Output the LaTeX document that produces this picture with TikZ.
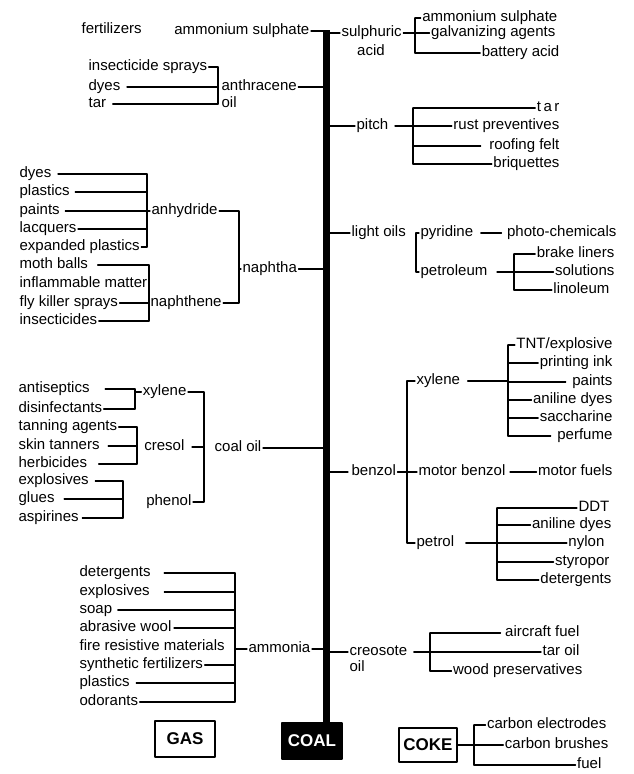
\documentclass[tikz,border=0pt]{standalone}
\usepackage{fontspec}
\setmainfont{Liberation Sans}
\begin{document}
\begin{tikzpicture}[x=1pt,y=-1pt,line join=round,line cap=round,line width=1.3pt,
 lbl/.style={inner xsep=1pt,inner ysep=0pt,text height=9pt,text depth=3pt,font=\fontsize{15}{17}\selectfont},
 box/.style={draw,line width=1.3pt,minimum width=60pt,minimum height=36pt,inner sep=0pt,font=\fontsize{17}{20}\selectfont\bfseries}]
\useasboundingbox (0,0) rectangle (633,774);
\node[box,fill=black,text=white] (coal) at (312,741) {COAL};
\node[box] (gas) at (185,739) {GAS};
\node[box,minimum width=58pt,minimum height=34pt] (coke) at (428,745) {COKE};
\coordinate (top) at (326,30);
\draw[line width=7pt,line cap=butt] (top) -- (coal.north -| top);
% top
\node[lbl,anchor=west] (fert) at (80,30) {fertilizers};
\node[lbl,anchor=east] (amsul) at (311,31) {ammonium sulphate};
\draw (amsul.east) -- (amsul.east -| top);
\node[lbl,anchor=west] (sulph) at (340,33) {sulphuric};
\node[lbl] (acid) at (371,52) {acid};
\draw (sulph.west -| top) -- (sulph.west);
\coordinate (sa) at (415,18);
\foreach \n/\lab/\x/\y in {sa1/ammonium sulphate/559/18,sa2/galvanizing agents/557/33,sa3/battery acid/561/53}{
 \node[lbl,anchor=east] (\n) at (\x,\y) {\lab};
 \draw (\n.west -| sa) -- (\n.west);}
\draw (sa) -- (sa3.west -| sa);
\draw (sulph.east) -- (sulph.east -| sa);
% anthracene oil
\coordinate (an) at (218,67);
\foreach \n/\lab/\y/\g in {an1/insecticide sprays/67/0,an2/dyes/87/5,an3/tar/104/5}{
 \node[lbl,anchor=west] (\n) at (87,\y) {\lab};
 \draw[shorten <=\g pt] (\n.east) -- (\n.east -| an);}
\draw (an) -- (an3.east -| an);
\node[lbl,anchor=west] (anth) at (220,87) {anthracene};
\node[lbl,anchor=west] (anoil) at (220,104) {oil};
\draw (anth.east) -- (anth.east -| top);
% pitch
\node[lbl,anchor=west] (pitch) at (355,126) {pitch};
\draw (pitch.west -| top) -- (pitch.west);
\coordinate (pi) at (413,108);
\foreach \n/\lab/\y/\g in {pi1/{t\,a\,r}/108/0,pi2/rust preventives/126/0,pi3/roofing felt/146/7,pi4/briquettes/164/0}{
 \node[lbl,anchor=east] (\n) at (561,\y) {\lab};
 \draw[shorten >=\g pt] (\n.west -| pi) -- (\n.west);}
\draw (pi) -- (pi4.west -| pi);
\draw[shorten <=5pt] (pitch.east) -- (pitch.east -| pi);
% light oils
\node[lbl,anchor=west] (lo) at (350,233) {light oils};
\draw (lo.west -| top) -- (lo.west);
\coordinate (lb) at (416,233);
\node[lbl,anchor=west] (pyr) at (419,233) {pyridine};
\node[lbl,anchor=west] (pet) at (419,272) {petroleum};
\draw (pyr.west) -- (lb) -- (pet.west -| lb) -- (pet.west);
\node[lbl,anchor=east] (photo) at (618,233) {photo-chemicals};
\draw[shorten <=6pt,shorten >=4pt] (pyr.east) -- (photo.west);
\coordinate (pb) at (514,254);
\foreach \n/\lab/\x/\y in {pb1/brake liners/616/254,pb2/solutions/616/272,pb3/linoleum/611/290}{
 \node[lbl,anchor=east] (\n) at (\x,\y) {\lab};
 \draw (\n.west -| pb) -- (\n.west);}
\draw (pb) -- (pb3.west -| pb);
\draw[shorten <=8pt] (pet.east) -- (pet.east -| pb);
% naphtha
\node[lbl,anchor=west] (naph) at (241,269) {naphtha};
\draw (naph.east) -- (naph.east -| top);
\coordinate (nb) at (239,211);
\node[lbl,anchor=west] (anhy) at (150,211) {anhydride};
\node[lbl,anchor=west] (nphn) at (149,303) {naphthene};
\draw (anhy.east) -- (nb) -- (nphn.east -| nb) -- (nphn.east);
\draw (naph.west -| nb) -- (naph.west);
\coordinate (ab) at (147,174);
\foreach \n/\lab/\y/\g in {ah1/dyes/174/5,ah2/plastics/192/4,ah3/paints/211/4,ah4/lacquers/229/0,ah5/expanded plastics/247/0}{
 \node[lbl,anchor=west] (\n) at (18,\y) {\lab};
 \draw[shorten <=\g pt] (\n.east) -- (\n.east -| ab);}
\draw (ab) -- (ah5.east -| ab);
\draw (ah3.east -| ab) -- (anhy.west);
\coordinate (nn) at (149,265);
\foreach \n/\lab/\y/\g in {nn1/moth balls/265/8,nn2/inflammable matter/284/0,nn3/fly killer sprays/303/0,nn4/insecticides/321/0}{
 \node[lbl,anchor=west] (\n) at (18,\y) {\lab};
 \draw[shorten <=\g pt] (\n.east) -- (\n.east -| nn);}
\draw (nn) -- (nn4.east -| nn);
% coal oil
\node[lbl,anchor=east] (coaloil) at (263,448) {coal oil};
\draw (coaloil.east) -- (coaloil.east -| top);
\coordinate (cb) at (204,392);
\node[lbl,anchor=east] (cxyl) at (188,392) {xylene};
\node[lbl,anchor=east] (cresol) at (186,447) {cresol};
\node[lbl,anchor=east] (phenol) at (193,502) {phenol};
\draw (cxyl.east) -- (cb) -- (phenol.east -| cb) -- (phenol.east);
\draw[shorten <=6pt] (cresol.east) -- (cresol.east -| cb);
\coordinate (xb) at (135,389);
\foreach \n/\lab/\y/\g in {xb1/antiseptics/389/14,xb2/disinfectants/409/0}{
 \node[lbl,anchor=west] (\n) at (17,\y) {\lab};
 \draw[shorten <=\g pt] (\n.east) -- (\n.east -| xb);}
\draw (xb) -- (xb2.east -| xb);
\draw (cxyl.west -| xb) -- (cxyl.west);
\coordinate (cr) at (137,427);
\foreach \n/\lab/\y/\g in {cr1/tanning agents/427/0,cr2/skin tanners/446/7,cr3/herbicides/464/10}{
 \node[lbl,anchor=west] (\n) at (17,\y) {\lab};
 \draw[shorten <=\g pt] (\n.east) -- (\n.east -| cr);}
\draw (cr) -- (cr3.east -| cr);
\coordinate (ph) at (123,481);
\foreach \n/\lab/\y/\g in {ph1/explosives/481/5,ph2/glues/499/8,ph3/aspirines/518/2}{
 \node[lbl,anchor=west] (\n) at (17,\y) {\lab};
 \draw[shorten <=\g pt] (\n.east) -- (\n.east -| ph);}
\draw (ph) -- (ph3.east -| ph);
% benzol
\node[lbl,anchor=west] (benzol) at (350,472) {benzol};
\draw[shorten >=2pt] (benzol.west -| top) -- (benzol.west);
\coordinate (bz) at (407,381);
\node[lbl,anchor=west] (bxyl) at (415,381) {xylene};
\node[lbl,anchor=west] (motor) at (417,472) {motor benzol};
\node[lbl,anchor=west] (petrol) at (415,543) {petrol};
\draw (bxyl.west) -- (bz) -- (petrol.west -| bz) -- (petrol.west);
\draw (benzol.east) -- (motor.west);
\node[lbl,anchor=east] (fuels) at (614,472) {motor fuels};
\draw[shorten <=3pt] (motor.east) -- (fuels.west);
\coordinate (xy) at (508,345);
\node[lbl,anchor=east] (tnt) at (614,345) {TNT/explosive};
\draw (xy) -- (tnt.west);
\foreach \n/\lab/\y/\g in {xy2/printing ink/363/0,xy3/paints/382/5,xy4/aniline dyes/400/0,xy5/saccharine/418/0,xy6/perfume/436/5}{
 \node[lbl,anchor=east] (\n) at (614,\y) {\lab};
 \draw[shorten >=\g pt] (\n.west -| xy) -- (\n.west);}
\draw (xy) -- (xy6.west -| xy);
\draw[shorten <=6pt] (bxyl.east) -- (bxyl.east -| xy);
\coordinate (pt) at (497,508);
\foreach \n/\lab/\x/\y in {pt1/DDT/611/508,pt2/aniline dyes/613/525,pt3/nylon/606/543,pt4/styropor/611/562,pt5/detergents/613/580}{
 \node[lbl,anchor=east] (\n) at (\x,\y) {\lab};
 \draw (\n.west -| pt) -- (\n.west);}
\draw (pt) -- (pt5.west -| pt);
\draw[shorten <=10pt] (petrol.east) -- (petrol.east -| pt);
% ammonia
\node[lbl,anchor=west] (ammonia) at (247,649) {ammonia};
\draw (ammonia.east) -- (ammonia.east -| top);
\coordinate (am) at (235,573);
\foreach \n/\lab/\y/\g in {am1/detergents/573/12,am2/explosives/592/13,am3/soap/610/4,am4/abrasive wool/628/1,am6/synthetic fertilizers/665/0,am7/plastics/683/5,am8/odorants/702/0}{
 \node[lbl,anchor=west] (\n) at (78,\y) {\lab};
 \draw[shorten <=\g pt] (\n.east) -- (\n.east -| am);}
\node[lbl,anchor=west] (am5) at (78,647) {fire resistive materials};
\draw (am) -- (am8.east -| am);
\draw (ammonia.west -| am) -- (ammonia.west);
% creosote oil
\node[lbl,anchor=west] (creo) at (348,652) {creosote};
\node[lbl,anchor=west] (coil) at (348,668) {oil};
\draw (creo.west -| top) -- (creo.west);
\coordinate (co) at (430,633);
\foreach \n/\lab/\x/\y/\g in {co1/aircraft fuel/581/633/3,co2/tar oil/581/652/0,co3/wood preservatives/584/671/0}{
 \node[lbl,anchor=east] (\n) at (\x,\y) {\lab};
 \draw[shorten >=\g pt] (\n.west -| co) -- (\n.west);}
\draw (co) -- (co3.west -| co);
\draw[shorten <=5pt] (creo.east) -- (creo.east -| co);
% coke
\coordinate (ck) at (474,725);
\foreach \n/\lab/\x/\y in {ck1/carbon electrodes/608/725,ck2/carbon brushes/610/745,ck3/fuel/603/765}{
 \node[lbl,anchor=east] (\n) at (\x,\y) {\lab};
 \draw (\n.west -| ck) -- (\n.west);}
\draw (ck) -- (ck3.west -| ck);
\draw (coke.east) -- (coke.east -| ck);
\end{tikzpicture}
\end{document}
